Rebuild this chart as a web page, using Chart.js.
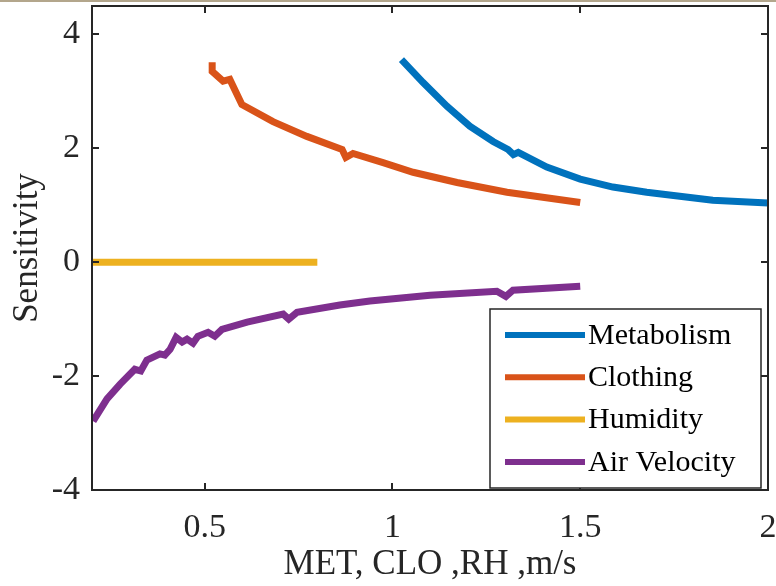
<!DOCTYPE html>
<html>
<head>
<meta charset="utf-8">
<script src="https://cdn.jsdelivr.net/npm/chart.js@4"></script>
<style>
html,body{margin:0;padding:0;background:#fff;}
#wrap{position:relative;width:776px;height:586px;border-top:2px solid #b3a68c;box-sizing:border-box;}
</style>
</head>
<body>
<div id="wrap"><canvas id="chartSens" width="776" height="584"></canvas></div>
<script>
// values
const metX=[1.024,1.081,1.145,1.206,1.268,1.308,1.322,1.335,1.411,1.5,1.587,1.677,1.765,1.853,2.0];
const metY=[3.56,3.16,2.74,2.39,2.12,1.98,1.89,1.93,1.67,1.46,1.32,1.23,1.16,1.09,1.04];

const cloX=[0.52,0.52,0.549,0.567,0.599,0.682,0.772,0.866,0.876,0.895,0.975,1.055,1.172,1.305,1.5];
const cloY=[3.51,3.35,3.18,3.21,2.77,2.47,2.21,1.98,1.84,1.91,1.75,1.58,1.40,1.23,1.05];

const rhX=[0.2,0.8];
const rhY=[0,0];

const velX=[0.203,0.24,0.275,0.314,0.33,0.346,0.381,0.394,0.408,0.424,0.44,0.453,0.469,0.482,0.509,0.527,0.546,0.613,0.709,0.724,0.746,0.86,0.94,1.1,1.278,1.302,1.321,1.5];
const velY=[-2.79,-2.40,-2.14,-1.88,-1.91,-1.72,-1.61,-1.63,-1.53,-1.32,-1.40,-1.35,-1.42,-1.30,-1.23,-1.30,-1.18,-1.05,-0.91,-1.00,-0.88,-0.75,-0.68,-0.58,-0.51,-0.60,-0.49,-0.42];

const seriesNames=["Metabolism","Clothing","Humidity","Air Velocity"];
const xTicks=[0.5,1,1.5,2];
const yTicks=[-4,-2,0,2,4];

const colors=["#0072BD","#D95319","#EDB120","#7E2F8E"];
const font="'Liberation Serif','Times New Roman',serif";
const ink="#262626";

function pts(xs,ys){
return xs.map((x,i)=>({x:x,y:ys[i]}));
}

let allX=[metX,cloX,rhX,velX];
let allY=[metY,cloY,rhY,velY];
let datasets=[];
for(let i=0;i<4;i++){
datasets.push({
label:seriesNames[i],
data:pts(allX[i],allY[i]),
borderColor:colors[i],
borderWidth:7,
pointRadius:0,
tension:0,
fill:false
});
}

// box with inward ticks, like matlab
const frame={
id:"frame",
afterDatasetsDraw(chart){
let c=chart.ctx, a=chart.chartArea;
let xs=chart.scales.x, ys=chart.scales.y;
c.save();
c.strokeStyle=ink;
c.lineWidth=2;
c.strokeRect(a.left,a.top,a.right-a.left,a.bottom-a.top);
let tl=7;
c.beginPath();
xTicks.forEach(v=>{
let p=Math.round(xs.getPixelForValue(v));
c.moveTo(p,a.bottom);c.lineTo(p,a.bottom-tl);
c.moveTo(p,a.top);c.lineTo(p,a.top+tl);
});
yTicks.forEach(v=>{
let p=Math.round(ys.getPixelForValue(v));
c.moveTo(a.left,p);c.lineTo(a.left+tl,p);
c.moveTo(a.right,p);c.lineTo(a.right-tl,p);
});
c.stroke();

// legend inside the axes
let lx=490, ly=307, lw=271, lh=179;
c.fillStyle="#fff";
c.fillRect(lx,ly,lw,lh);
c.lineWidth=1.5;
c.strokeStyle=ink;
c.strokeRect(lx,ly,lw,lh);
c.font="30px "+font;
c.textBaseline="middle";
c.textAlign="left";
chart.data.datasets.forEach((d,i)=>{
let yy=ly+26+i*42.3;
c.strokeStyle=d.borderColor;
c.lineWidth=6;
c.beginPath();
c.moveTo(lx+15,yy);c.lineTo(lx+95,yy);
c.stroke();
c.fillStyle="#000";
c.fillText(d.label,lx+98,yy+1);
});
c.restore();
}
};

new Chart(document.getElementById("chartSens"),{
type:"line",
data:{datasets},
options:{
responsive:false,
animation:false,
layout:{padding:{top:4,right:8,left:0,bottom:0}},
plugins:{legend:{display:false},tooltip:{enabled:false}},
scales:{
x:{
type:"linear",
min:0.2,max:2,
grid:{display:false,drawTicks:false},
border:{display:false},
afterBuildTicks:s=>{s.ticks=xTicks.map(v=>({value:v}));},
afterFit:s=>{s.height=96;s.paddingLeft=0;s.paddingRight=0;},
ticks:{color:ink,font:{family:font,size:34},padding:18,maxRotation:0,callback:v=>String(v)},
title:{display:true,text:"MET, CLO ,RH ,m/s",color:ink,font:{family:font,size:35},padding:{top:0,bottom:0}}
},
y:{
min:-4,max:4.5,
grid:{display:false,drawTicks:false},
border:{display:false},
afterBuildTicks:s=>{s.ticks=yTicks.map(v=>({value:v}));},
afterFit:s=>{s.width=92;s.paddingTop=0;s.paddingBottom=0;},
ticks:{color:ink,font:{family:font,size:34},padding:12,callback:v=>String(v)},
title:{display:true,text:"Sensitivity",color:ink,font:{family:font,size:35},padding:{top:7,bottom:0}}
}
}
},
plugins:[frame]
});
</script>
</body>
</html>
